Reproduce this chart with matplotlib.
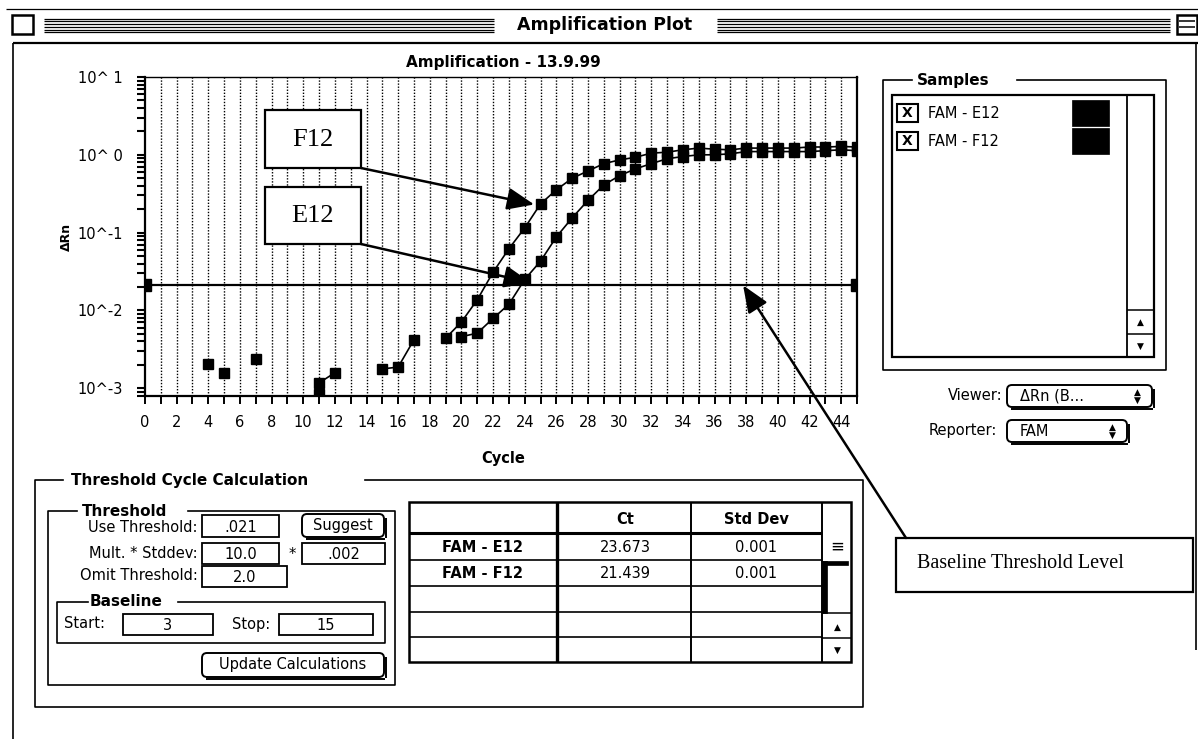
import numpy as np
import matplotlib
matplotlib.use("Agg")
import matplotlib.pyplot as plt
from matplotlib.patches import Rectangle, FancyBboxPatch
from matplotlib.ticker import LogLocator, NullFormatter

nan = np.nan

# delta Rn per cycle for the two wells (nan = not shown)
cycles = list(range(0, 46))
f12_rn = [nan, nan, nan, nan, 2.05e-3, nan, nan, 2.39e-3, nan, nan,
          nan, 8.5e-4, nan, nan, nan, 1.77e-3, 1.87e-3, 4.2e-3, nan, 4.4e-3,
          7.1e-3, 0.0137, 0.031, 0.062, 0.115, 0.234, 0.355, 0.50, 0.62, 0.77,
          0.86, 0.93, 1.05, 1.08, 1.16, 1.22, 1.18, 1.16, 1.22, 1.22,
          1.22, 1.22, 1.26, 1.26, 1.28, 1.26]
e12_rn = [nan, nan, nan, nan, nan, 1.58e-3, nan, nan, nan, nan,
          nan, 1.17e-3, 1.58e-3, nan, nan, nan, nan, nan, nan, nan,
          4.6e-3, 5.1e-3, 7.9e-3, 0.012, 0.025, 0.043, 0.088, 0.155, 0.26, 0.41,
          0.54, 0.66, 0.77, 0.89, 0.95, 1.0, 1.0, 1.03, 1.10, 1.10,
          1.10, 1.10, 1.10, 1.13, 1.16, 1.13]
threshold = 0.021
threshold_ends = [0, 45]

y_ticks = [1e-3, 1e-2, 1e-1, 1e0, 1e1]
y_tick_labels = ["10^-3", "10^-2", "10^-1", "10^ 0", "10^ 1"]
x_tick_labels = [str(c) if c % 2 == 0 and c < 45 else "" for c in cycles]

sample_names = ["FAM - E12", "FAM - F12"]
ct_values = ["23.673", "21.439"]
ct_stddev = ["0.001", "0.001"]

W, H = 1198, 739
fig = plt.figure(figsize=(W / 100, H / 100), dpi=100)
fig.patch.set_facecolor("white")

# ---- the amplification plot itself ----
ax = fig.add_axes([145 / W, 1 - 396 / H, (857 - 145) / W, (396 - 77) / H])
for c in range(1, 45):
    ax.axvline(c, color="black", lw=1.0, ls=(0, (1, 1.2)), zorder=1)
ax.axhline(threshold, color="black", lw=1.6, zorder=2)
ax.plot(threshold_ends, [threshold, threshold], "s", color="black", ms=8, zorder=3)
ax.plot(cycles, f12_rn, "-s", color="black", lw=1.2, ms=6.5, zorder=4)
ax.plot(cycles, e12_rn, "-s", color="black", lw=1.2, ms=6.5, zorder=4)

ax.set_yscale("log")
ax.set_xlim(0, 45)
ax.set_ylim(10 ** -3.1, 10)
ax.set_xticks(cycles)
ax.set_xticklabels(x_tick_labels)
ax.set_yticks(y_ticks)
ax.set_yticklabels(y_tick_labels)
ax.yaxis.set_minor_locator(LogLocator(base=10, subs=range(2, 10)))
ax.yaxis.set_minor_formatter(NullFormatter())
ax.tick_params(axis="x", direction="out", length=5.5, width=1.4, pad=8, labelsize=10.5)
ax.tick_params(axis="y", which="both", direction="out", length=6, width=1.5, pad=10, labelsize=10.5)
for s in ["left", "bottom", "right"]:
    ax.spines[s].set_linewidth(1.6)
ax.spines["top"].set_linewidth(1.0)

# ---- window chrome and dialog widgets, in pixel coordinates ----
ui = fig.add_axes([0, 0, 1, 1], zorder=5)
ui.set_xlim(0, W)
ui.set_ylim(H, 0)
ui.axis("off")
ui.patch.set_alpha(0)

sans = "DejaVu Sans"


def line(xs, ys, lw=1.1):
    ui.plot(xs, ys, color="black", lw=lw, solid_capstyle="butt")


def rect(x0, y0, x1, y1, lw=1.1, fc="none"):
    ui.add_patch(Rectangle((x0, y0), x1 - x0, y1 - y0, fill=(fc != "none"),
                           facecolor=fc, edgecolor="black", lw=lw))


def text(x, y, s, size=10.5, bold=False, ha="left", **kw):
    ui.text(x, y, s, fontsize=size, fontweight="bold" if bold else "normal",
            ha=ha, va="center", family=sans, **kw)


def group(x0, y0, x1, y1, gap0, gap1, title, tx):
    ui.plot([gap0, x0, x0, x1, x1, gap1], [y0, y0, y1, y1, y0, y0], color="black", lw=1.2)
    text(tx, y0, title, size=11, bold=True)


def button(x0, y0, x1, y1, label):
    ui.add_patch(FancyBboxPatch((x0, y0), x1 - x0, y1 - y0,
                                boxstyle="round,pad=0,rounding_size=5",
                                fc="white", ec="black", lw=1.4))
    line([x1 + 1.5, x1 + 1.5], [y0 + 4, y1 + 1], lw=1.4)
    line([x0 + 4, x1 + 1], [y1 + 1.5, y1 + 1.5], lw=1.4)
    text((x0 + x1) / 2, (y0 + y1) / 2, label, size=10.5, ha="center")


def field(x0, y0, x1, y1, s):
    rect(x0, y0, x1, y1, lw=1.3)
    text((x0 + x1) / 2, (y0 + y1) / 2 + 1, s, size=10.5, ha="center")


def updown(x, y0, y1):
    text(x, y0, "\u25b2", size=6.5, ha="center")
    text(x, y1, "\u25bc", size=6.5, ha="center")


# title bar
line([6, W], [9, 9], lw=0.9)
for i in range(6):
    yy = 18.5 + i * 2.75
    line([44, 494], [yy, yy], lw=0.9)
    line([717, 1170], [yy, yy], lw=0.9)
rect(12, 15, 33, 34, lw=1.8)
rect(1177, 15, 1197, 34, lw=1.8)
line([1179, 1195], [21, 21], lw=1.1)
line([1179, 1195], [27, 27], lw=1.1)
text(605, 25, "Amplification Plot", size=12.5, bold=True, ha="center")
line([13, W], [43, 43], lw=1.6)
line([13, 13], [43, H], lw=1.2)
line([1196, 1196], [43, 650], lw=1.2)

# plot texts
text(503, 63, "Amplification - 13.9.99", size=11, bold=True, ha="center")
text(503, 459, "Cycle", size=10.5, bold=True, ha="center")
ui.text(66, 237, "\u0394Rn", fontsize=9, fontweight="bold", rotation=90,
        ha="center", va="center", family=sans)

# Samples list
group(883, 80, 1166, 370, 912, 1017, "Samples", 917)
rect(892, 95, 1154, 357, lw=1.6)
line([1127, 1127], [95, 357], lw=1.3)
line([1127, 1154], [310, 310], lw=1.1)
line([1127, 1154], [334, 334], lw=1.1)
updown(1140, 322, 346)
for i, name in enumerate(sample_names):
    yc = 113 + i * 28
    rect(897, yc - 9, 918, yc + 9, lw=1.5)
    text(907.5, yc, "X", size=10, bold=True, ha="center")
    text(928, yc, name, size=10.5)
    rect(1072, yc - 13, 1109, yc + 13, lw=0.5, fc="black")

# viewer / reporter popups
text(1003, 396, "Viewer:", size=10.5, ha="right")
button(1007, 385, 1152, 407, "")
text(1020, 396, "\u0394Rn (B...", size=10.5)
updown(1137, 392, 400)
text(997, 431, "Reporter:", size=10.5, ha="right")
button(1007, 420, 1127, 442, "")
text(1020, 431, "FAM", size=10.5)
updown(1112, 427, 435)

# Threshold Cycle Calculation panel
group(35, 480, 863, 707, 63, 365, "Threshold Cycle Calculation", 71)
group(48, 511, 395, 685, 77, 188, "Threshold", 82)
text(198, 527, "Use Threshold:", ha="right")
field(202, 515, 279, 537, ".021")
button(302, 514, 384, 537, "Suggest")
text(198, 553, "Mult. * Stddev:", ha="right")
field(202, 543, 279, 564, "10.0")
text(292, 555, "*", size=10.5, ha="center")
field(302, 543, 385, 564, ".002")
text(198, 576, "Omit Threshold:", ha="right")
field(202, 566, 287, 587, "2.0")
group(57, 602, 385, 643, 88, 178, "Baseline", 90)
text(64, 624, "Start:")
field(123, 614, 213, 635, "3")
text(232, 624, "Stop:")
field(279, 614, 373, 635, "15")
button(202, 653, 384, 677, "Update Calculations")

# results table
rect(409, 502, 851, 662, lw=1.8)
line([409, 822], [533, 533], lw=2.2)
line([557, 557], [502, 662], lw=2.4)
line([691, 691], [502, 662], lw=1.4)
line([822, 822], [502, 662], lw=1.4)
for yy in [560, 586, 612, 637]:
    line([409, 822], [yy, yy], lw=1.2)
line([822, 851], [613, 613], lw=1.1)
line([822, 851], [638, 638], lw=1.1)
text(625, 520, "Ct", size=10.5, bold=True, ha="center")
text(756, 520, "Std Dev", size=10.5, bold=True, ha="center")
for i, name in enumerate(sample_names):
    yc = 547 + i * 26
    text(483, yc, name, size=10.5, bold=True, ha="center")
    text(625, yc, ct_values[i], size=10.5, ha="center")
    text(756, yc, ct_stddev[i], size=10.5, ha="center")
text(837, 547, "\u2261", size=12, ha="center")
rect(822, 561, 848, 565, lw=0.5, fc="black")
rect(822, 561, 827, 613, lw=0.5, fc="black")
updown(837, 627, 650)

# annotation boxes and arrows
serif = "Liberation Serif"
for label, (x0, y0, x1, y1) in [("F12", (265, 110, 361, 168)), ("E12", (265, 187, 361, 244))]:
    rect(x0, y0, x1, y1, lw=1.6, fc="white")
    ui.text((x0 + x1) / 2, (y0 + y1) / 2 + 1, label, fontsize=19, family=serif,
            ha="center", va="center")
rect(896, 538, 1193, 592, lw=1.6, fc="white")
ui.text(917, 564, "Baseline Threshold Level", fontsize=14.5, family=serif,
        ha="left", va="center")

arrow = dict(arrowstyle="-|>,head_length=1.1,head_width=0.45", color="black",
             lw=1.8, shrinkA=0, shrinkB=0, mutation_scale=15)
ui.annotate("", xy=(24.6, 0.23), xycoords=ax.transData,
            xytext=(361, 168), textcoords=ui.transData, arrowprops=arrow)
ui.annotate("", xy=(24.4, threshold * 1.08), xycoords=ax.transData,
            xytext=(361, 244), textcoords=ui.transData, arrowprops=arrow)
ui.annotate("", xy=(37.8, threshold), xycoords=ax.transData,
            xytext=(906, 538), textcoords=ui.transData, arrowprops=arrow)

fig.savefig("out.png", dpi=100, facecolor="white")
